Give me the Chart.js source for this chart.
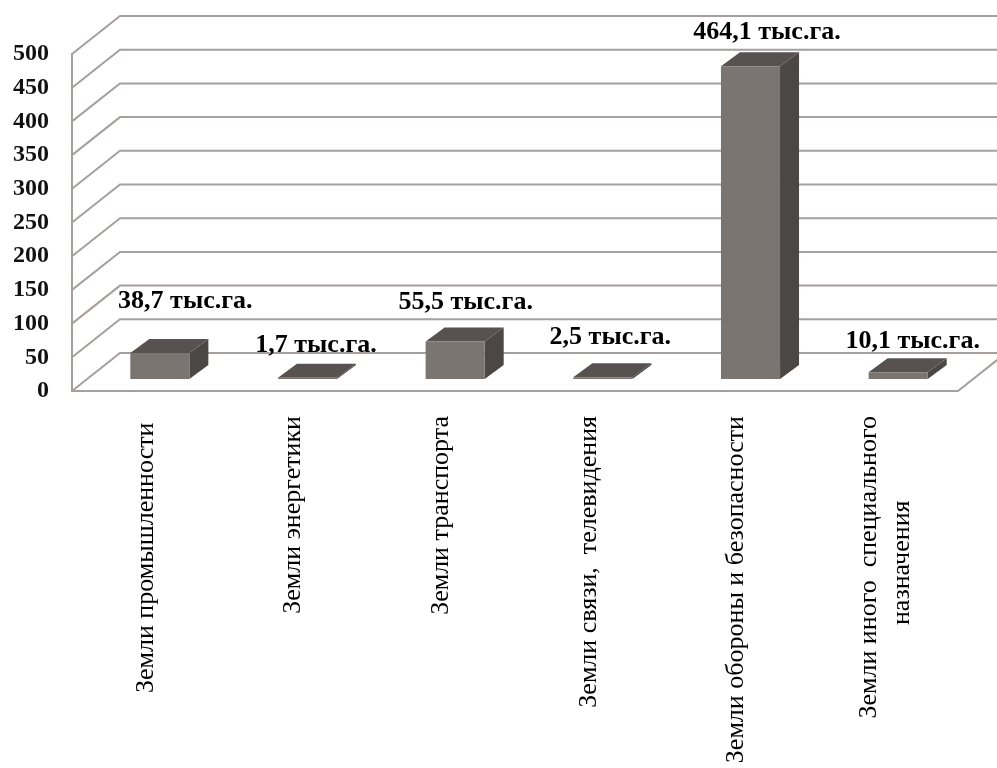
<!DOCTYPE html>
<html lang="ru">
<head>
<meta charset="utf-8">
<title>Земли по категориям</title>
<script src="https://cdn.jsdelivr.net/npm/chart.js@4"></script>
<style>
  html, body { margin: 0; padding: 0; background: #fff; }
  canvas { display: block; }
</style>
</head>
<body>
<canvas id="chart" width="997" height="768"></canvas>
<script>
"use strict";

var categories = [
  'Земли промышленности\u00a0',
  'Земли энергетики',
  'Земли транспорта',
  'Земли связи,  телевидения',
  'Земли обороны и безопасности',
  // trailing nbsp pushes the short second line to the middle of the first
  ['Земли иного  специального', 'назначения\u00a0\u00a0\u00a0\u00a0\u00a0\u00a0\u00a0\u00a0\u00a0\u00a0\u00a0\u00a0\u00a0']
];
var areas = [38.7, 1.7, 55.5, 2.5, 464.1, 10.1];
var yTicks = [0, 50, 100, 150, 200, 250, 300, 350, 400, 450, 500];
var unit = ' тыс.га.';

var GRID = '#a5a09e';
var FRONT = '#7a7571';
var TOP = '#575250';
var SIDE = '#4b4745';

var wallDepth = { x: 48, y: -38 };
var barDepth = { x: 19, y: -14 };
var barShift = { x: 14, y: -12 };
var labelNudge = [
  { x: 16, y: -38 },
  { x: -1, y: -19 },
  { x: 1, y: -25 },
  { x: -2, y: -26 },
  { x: 7, y: -20 },
  { x: 5, y: -17 }
];

// Chart.js centres only the first line of a rotated label on its tick, so
// single lines get a blank line before them and the global labelOffset
// takes that step back; two-line labels use a wider step around the tick
var TICK_STEP = 15;
var TWO_LINE_STEP = 33;

function formatArea(value) {
  return value.toFixed(1).replace('.', ',') + unit;
}

function polygon(ctx, points, fill) {
  ctx.beginPath();
  points.forEach(function(p, i) {
    if (i === 0) ctx.moveTo(p[0], p[1]);
    else ctx.lineTo(p[0], p[1]);
  });
  ctx.closePath();
  ctx.fillStyle = fill;
  ctx.fill();
}

// back wall, left wall rungs and the floor edge
var wallsPlugin = {
  id: 'walls',
  beforeDatasetsDraw: function(chart) {
    var ctx = chart.ctx;
    var area = chart.chartArea;
    var y = chart.scales.y;
    ctx.save();
    ctx.strokeStyle = GRID;
    ctx.lineWidth = 2;
    yTicks.forEach(function(value) {
      var py = y.getPixelForValue(value);
      ctx.beginPath();
      ctx.moveTo(area.left, py);
      ctx.lineTo(area.left + wallDepth.x, py + wallDepth.y);
      ctx.lineTo(area.right + wallDepth.x, py + wallDepth.y);
      ctx.stroke();
    });
    ctx.beginPath();
    ctx.moveTo(area.right, area.bottom);
    ctx.lineTo(area.right + wallDepth.x, area.bottom + wallDepth.y);
    ctx.stroke();
    ctx.restore();
  }
};

// shifts the bars back onto the floor and gives them top and side faces
var boxPlugin = {
  id: 'box',
  beforeDatasetDraw: function(chart, args) {
    var ctx = chart.ctx;
    var meta = chart.getDatasetMeta(args.index);
    ctx.save();
    ctx.translate(barShift.x, barShift.y);
    meta.data.forEach(function(bar) {
      var left = bar.x - bar.width / 2;
      var right = bar.x + bar.width / 2;
      var dx = barDepth.x;
      var dy = barDepth.y;
      polygon(ctx, [[right, bar.y], [right + dx, bar.y + dy], [right + dx, bar.base + dy], [right, bar.base]], SIDE);
      polygon(ctx, [[left, bar.y], [left + dx, bar.y + dy], [right + dx, bar.y + dy], [right, bar.y]], TOP);
    });
  },
  afterDatasetDraw: function(chart) {
    chart.ctx.restore();
  }
};

var valueLabelPlugin = {
  id: 'valueLabels',
  afterDatasetsDraw: function(chart) {
    var ctx = chart.ctx;
    var meta = chart.getDatasetMeta(0);
    ctx.save();
    ctx.font = 'bold 26px "Liberation Serif"';
    ctx.fillStyle = '#000';
    ctx.textAlign = 'center';
    ctx.textBaseline = 'middle';
    meta.data.forEach(function(bar, i) {
      var x = bar.x + barShift.x + barDepth.x / 2 + labelNudge[i].x;
      var y = bar.y + barShift.y + barDepth.y + labelNudge[i].y;
      ctx.fillText(formatArea(areas[i]), x, y);
    });
    ctx.restore();
  }
};

new Chart(document.getElementById('chart'), {
  type: 'bar',
  data: {
    labels: categories,
    datasets: [{
      data: areas,
      backgroundColor: FRONT,
      borderWidth: 0,
      categoryPercentage: 1,
      barPercentage: 0.4,
      clip: false
    }]
  },
  options: {
    responsive: false,
    animation: false,
    layout: { padding: { top: 54, right: 39 } },
    plugins: {
      legend: { display: false },
      title: { display: false },
      tooltip: { enabled: false }
    },
    scales: {
      x: {
        afterFit: function(scale) { scale.height = 377; },
        grid: { display: false, drawTicks: false },
        border: { display: true, color: GRID, width: 2 },
        ticks: {
          autoSkip: false,
          minRotation: 90,
          maxRotation: 90,
          padding: 25,
          labelOffset: -TICK_STEP,
          color: '#000',
          callback: function(value) {
            var label = this.getLabelForValue(value);
            return Array.isArray(label) ? label : ['', label];
          },
          font: function(context) {
            var twoLine = Array.isArray(categories[context.index]);
            return {
              family: '"Liberation Serif"',
              size: 26,
              lineHeight: (twoLine ? TWO_LINE_STEP : TICK_STEP) + 'px'
            };
          }
        }
      },
      y: {
        min: 0,
        max: 500,
        afterFit: function(scale) { scale.width = 72; },
        afterBuildTicks: function(scale) {
          scale.ticks = yTicks.map(function(value) { return { value: value }; });
        },
        grid: { display: false, drawTicks: false },
        border: { display: true, color: GRID, width: 2 },
        ticks: {
          padding: 23,
          color: '#111',
          font: { family: '"Liberation Serif"', size: 24, weight: 'bold' }
        }
      }
    }
  },
  plugins: [wallsPlugin, boxPlugin, valueLabelPlugin]
});
</script>
</body>
</html>
